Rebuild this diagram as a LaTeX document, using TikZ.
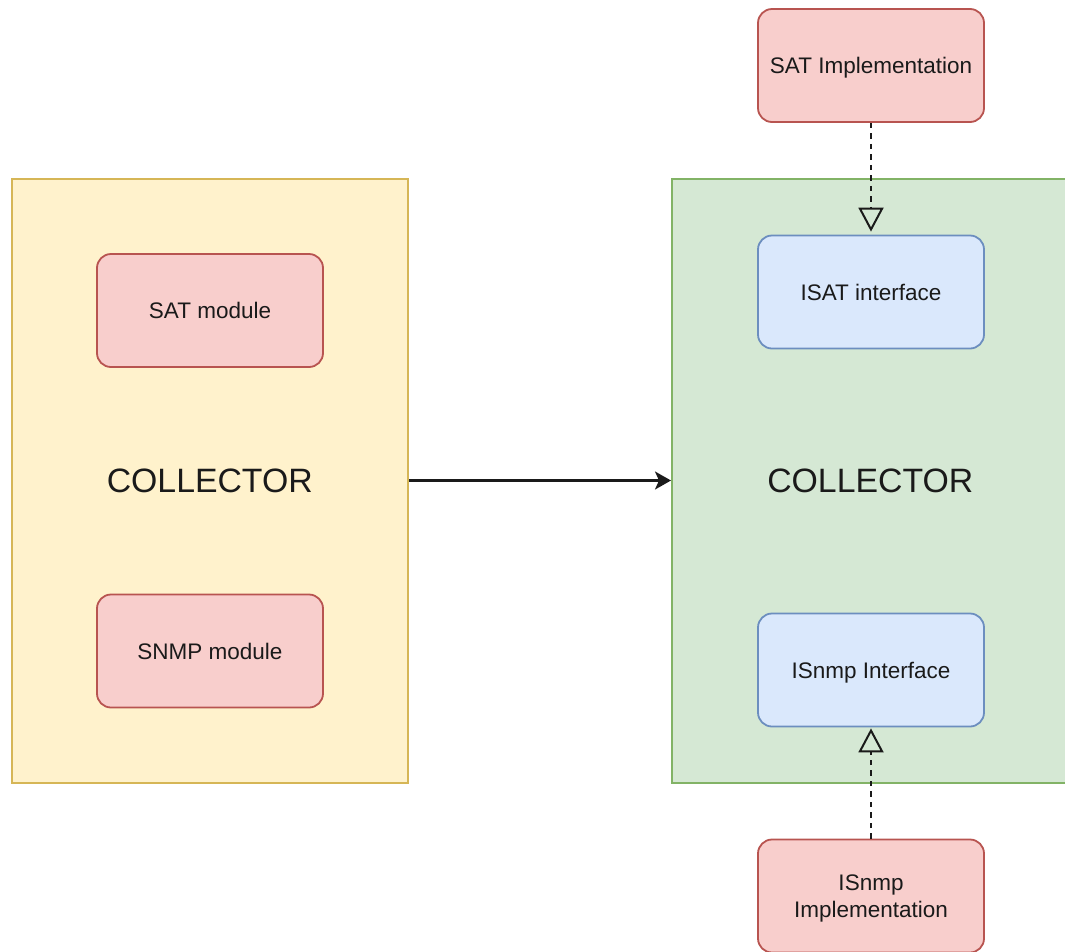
\documentclass[tikz,border=0pt]{standalone}
\usepackage{fontspec}
\setmainfont{Liberation Sans}
\usetikzlibrary{arrows.meta}
\definecolor{ylwfill}{HTML}{FFF2CC}
\definecolor{ylwline}{HTML}{D6B656}
\definecolor{grnfill}{HTML}{D5E8D4}
\definecolor{grnline}{HTML}{82B366}
\definecolor{redfill}{HTML}{F8CECC}
\definecolor{redline}{HTML}{B85450}
\definecolor{bluefill}{HTML}{DAE8FC}
\definecolor{blueline}{HTML}{6C8EBF}
\definecolor{ink}{HTML}{1A1A1A}
\begin{document}
\begin{tikzpicture}[x=1pt,y=-1pt,
  container/.style={draw, line width=2pt, minimum width=396.5pt, minimum height=604pt,
    inner sep=0pt, text depth=0pt, font=\fontsize{33.8}{40}\selectfont, text=ink},
  modbox/.style={draw=redline, fill=redfill, line width=1.8pt, rounded corners=14pt,
    minimum width=226pt, minimum height=113pt, inner sep=0pt, align=center,
    text depth=0pt, font=\fontsize{22.5}{27}\selectfont, text=ink},
  ifbox/.style={modbox, draw=blueline, fill=bluefill},
  realize/.style={draw=ink, line width=2pt, dash pattern=on 5.5pt off 5pt,
    -{Triangle[open, length=24pt, width=25pt, line width=2pt]}},
  flow/.style={draw=ink, line width=2.2pt, -{Stealth[length=16pt, width=18pt, inset=4pt]}}]
\path[use as bounding box, clip] (0,0) rectangle (1065,951);

% left collector with its modules
\node[container, draw=ylwline, fill=ylwfill] (colA) at (209.75,480.5) {COLLECTOR};
\node[modbox] (satmod) at (210,310.5) {SAT module};
\node[modbox] (snmpmod) at (210,651) {SNMP module};

% right collector with its interfaces
\node[container, draw=grnline, fill=grnfill] (colB) at (870.25,480.5) {COLLECTOR};
\node[ifbox] (isat) at (871,292) {ISAT interface};
\node[ifbox] (isnmp) at (871,670) {ISnmp Interface};

% implementations outside the right collector
\node[modbox] (satimpl) at (871,65.5) {SAT Implementation};
\node[modbox] (snmpimpl) at (871,896) {ISnmp\\Implementation};

% connectors
\draw[flow] (colA.east) -- (colB.west);
\draw[realize, shorten >=3pt] (satimpl.south) -- (isat.north);
\draw[realize, shorten >=1pt] (snmpimpl.north) -- (isnmp.south);
\end{tikzpicture}
\end{document}
